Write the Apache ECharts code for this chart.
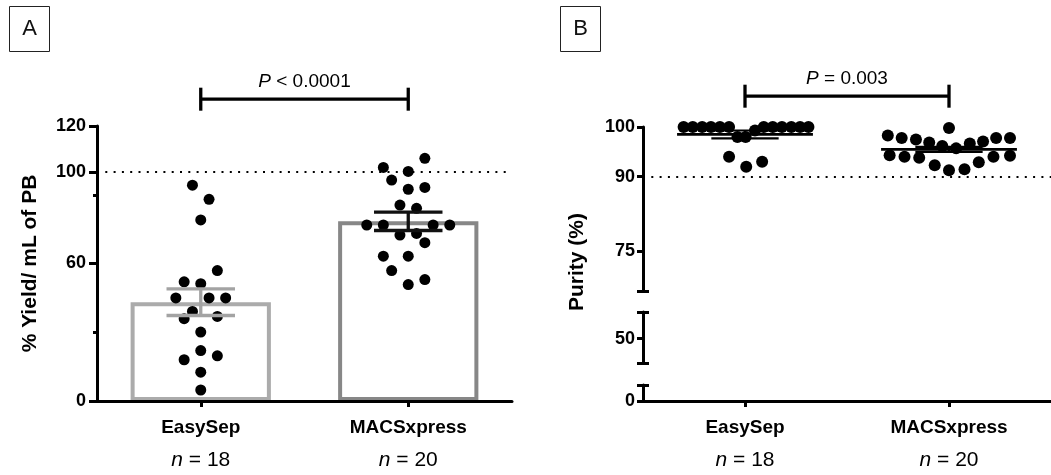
<!DOCTYPE html>
<html><head><meta charset="utf-8">
<script src="https://cdn.jsdelivr.net/npm/echarts@6/dist/echarts.min.js"></script>
<style>html,body{margin:0;padding:0;background:#fff}#c{width:1051px;height:475px}</style>
</head><body><div id="c"></div>
<script>
// ---------------- data ----------------
const categories = ['EasySep', 'MACSxpress'];
const nCounts = [18, 20];

// Panel A: % Yield / mL of PB
const yieldEasySep = [94.2, 88.0, 79.0, 56.9, 52.0, 51.2, 45.0, 45.0, 45.0, 39.1, 35.9, 36.9, 30.1, 22.0, 18.0, 19.7, 12.6, 4.8];
const jitterYieldEasySep = [-0.04, 0.04, 0, 0.08, -0.08, 0, -0.12, 0.04, 0.12, -0.04, -0.08, 0.08, 0, 0, -0.08, 0.08, 0, 0];
const yieldMACS = [105.9, 101.9, 100.2, 96.4, 92.4, 93.2, 85.5, 84.1, 76.8, 76.8, 76.8, 76.8, 72.4, 73.1, 69.1, 63.2, 63.2, 56.9, 53.0, 50.8];
const jitterYieldMACS = [0.08, -0.12, 0, -0.08, 0, 0.08, -0.04, 0.04, -0.2, -0.12, 0.12, 0.2, -0.04, 0.04, 0.08, -0.12, 0, -0.08, 0.08, 0];
const yieldMean = [43.1, 78.4];
const yieldSEM = [5.8, 4.0];
const yieldRange = [0, 120];
const yieldTicks = [0, 60, 100, 120];
const yieldMinorTicks = [30, 90];
const yieldRefLine = 100;
const yieldP = 'P < 0.0001';
const yieldBracketLevel = 131.7;

// Panel B: Purity (%)
const purityEasySep = [100, 100, 100, 100, 100, 100, 100, 100, 100, 100, 100, 100, 98.0, 98.0, 99.3, 94.0, 92.0, 93.0];
const jitterPurityEasySep = [-0.301, -0.256, -0.210, -0.167, -0.123, -0.078, 0.092, 0.136, 0.181, 0.227, 0.270, 0.311, -0.037, 0.003, 0.049, -0.078, 0.006, 0.084];
const purityMACS = [98.3, 97.8, 97.5, 96.9, 96.2, 95.7, 96.7, 97.1, 97.8, 97.8, 99.8, 94.3, 94.0, 93.8, 92.3, 91.3, 91.5, 92.9, 94.0, 94.2];
const jitterPurityMACS = [-0.300, -0.232, -0.162, -0.097, -0.033, 0.035, 0.102, 0.167, 0.231, 0.299, 0, -0.291, -0.218, -0.146, -0.070, 0, 0.076, 0.146, 0.218, 0.299];
const purityMean = [98.5, 95.5];
const puritySEM = [0.8, 0.5];
const puritySegments = [[67, 100], [45, 55.5], [0, 3.2]];
const purityTicks = [[75, 90, 100], [50], [0]];
const purityRefLine = 90;
const purityP = 'P = 0.003';
const purityBracketLevel = 106.2;

// ---------------- styles ----------------
const FONT = '"Liberation Sans", Arial, Helvetica, sans-serif';
const BLACK = '#000';
const barBorders = ['#ababab', '#878787'];
const errColors = ['#a3a3a3', '#111'];

const chart = echarts.init(document.getElementById('c'), null, {renderer: 'canvas'});

function catLabel(value, idx) {
  return '{c|' + value + '}\n{i|n}{t| = ' + nCounts[idx] + '}';
}
const catRich = {
  c: {fontSize: 19, fontWeight: 'bold', color: BLACK, lineHeight: 32, fontFamily: FONT},
  i: {fontSize: 21, fontStyle: 'italic', color: BLACK, lineHeight: 32, fontFamily: FONT},
  t: {fontSize: 21, color: BLACK, lineHeight: 32, fontFamily: FONT}
};

function catAxis(gridIndex) {
  return {
    type: 'category', gridIndex, data: categories, z: 10,
    axisLine: {show: true, onZero: false, lineStyle: {color: BLACK, width: 3}},
    axisTick: {show: true, alignWithLabel: true, length: 6, lineStyle: {color: BLACK, width: 3}},
    axisLabel: {formatter: catLabel, rich: catRich, margin: 11, interval: 0},
    splitLine: {show: false}
  };
}
function hiddenX(gridIndex) {
  return {type: 'value', gridIndex, min: 0, max: 2, show: false};
}
function segAxes(gridIndex, range, labels, caps, tickLen, margin) {
  return [{
    type: 'value', gridIndex, min: range[0], max: range[1], position: 'left', z: 10,
    axisLine: {show: true, onZero: false, lineStyle: {color: BLACK, width: 3}},
    axisTick: {show: true, customValues: labels.concat(caps), length: tickLen, lineStyle: {color: BLACK, width: 3}},
    axisLabel: {show: true, customValues: labels, margin: margin, fontSize: 18, fontWeight: 'bold', color: BLACK, fontFamily: FONT},
    splitLine: {show: false}
  }, {
    type: 'value', gridIndex, min: range[0], max: range[1], position: 'left', z: 10,
    axisLine: {show: false, onZero: false},
    axisTick: {show: caps.length > 0, inside: true, customValues: caps.length ? caps : [range[0]], length: tickLen, lineStyle: {color: BLACK, width: 3}},
    axisLabel: {show: false},
    splitLine: {show: false}
  }];
}

function bracketSeries(xIdx, yIdx, level, text) {
  return {
    type: 'custom', xAxisIndex: xIdx, yAxisIndex: yIdx, clip: false, silent: true, z: 20,
    data: [[0.5, 1.5, level]],
    renderItem(params, api) {
      const a = api.coord([api.value(0), api.value(2)]);
      const b = api.coord([api.value(1), api.value(2)]);
      const st = {stroke: BLACK, lineWidth: 3.3};
      return {type: 'group', children: [
        {type: 'line', shape: {x1: a[0], y1: a[1], x2: b[0], y2: b[1]}, style: st},
        {type: 'line', shape: {x1: a[0], y1: a[1] - 11.5, x2: a[0], y2: a[1] + 11.5}, style: st},
        {type: 'line', shape: {x1: b[0], y1: b[1] - 11.5, x2: b[0], y2: b[1] + 11.5}, style: st},
        {type: 'text', x: (a[0] + b[0]) / 2, y: a[1] - 17, style: {
          text: '{i|P}' + text.slice(1), align: 'center', verticalAlign: 'middle',
          fontSize: 19, fontFamily: FONT, fill: BLACK,
          rich: {i: {fontStyle: 'italic', fontSize: 19, fontFamily: FONT, fill: BLACK}}
        }}
      ]};
    }
  };
}

const refLine = (v) => ({
  silent: true, symbol: ['none', 'none'], animation: false,
  label: {show: false},
  lineStyle: {color: BLACK, width: 2, type: [2, 6.3]},
  data: [{yAxis: v}]
});

const grids = [
  {left: 97, right: 539, top: 126, bottom: 74},
  {left: 643, right: -5, top: 127, bottom: 184},
  {left: 643, right: -5, top: 312, bottom: 112},
  {left: 643, right: -5, top: 385, bottom: 74}
];

const yAxes = [
  {
    type: 'value', gridIndex: 0, min: yieldRange[0], max: yieldRange[1], position: 'left', z: 10,
    name: '% Yield/ mL of PB', nameLocation: 'middle', nameRotate: 90, nameGap: 56,
    nameTextStyle: {fontSize: 21, fontWeight: 'bold', color: BLACK, fontFamily: FONT},
    axisLine: {show: true, onZero: false, lineStyle: {color: BLACK, width: 3}},
    axisTick: {show: true, customValues: yieldTicks, length: 8, lineStyle: {color: BLACK, width: 3}},
    axisLabel: {customValues: yieldTicks, margin: 11, fontSize: 18, fontWeight: 'bold', color: BLACK, fontFamily: FONT},
    splitLine: {show: false}
  },
  {
    type: 'value', gridIndex: 0, min: yieldRange[0], max: yieldRange[1], position: 'left', z: 10,
    axisLine: {show: false, onZero: false},
    axisTick: {show: true, customValues: yieldMinorTicks, length: 4, lineStyle: {color: BLACK, width: 3}},
    axisLabel: {show: false}, splitLine: {show: false}
  }
].concat(
  segAxes(1, puritySegments[0], purityTicks[0], [puritySegments[0][0]], 6, 8),
  segAxes(2, puritySegments[1], purityTicks[1], [puritySegments[1][0], puritySegments[1][1]], 6, 8),
  segAxes(3, puritySegments[2], purityTicks[2], [puritySegments[2][1]], 6, 8)
);

const option = {
  animation: false,
  textStyle: {fontFamily: FONT},
  grid: grids,
  xAxis: [catAxis(0), hiddenX(0), hiddenX(1), hiddenX(2), catAxis(3)],
  yAxis: yAxes,
  graphic: [
    {type: 'rect', shape: {x: 9.5, y: 6.5, width: 40, height: 45}, style: {fill: 'none', stroke: '#222', lineWidth: 1}},
    {type: 'text', x: 29.5, y: 29, style: {text: 'A', fontSize: 22, fontFamily: FONT, fill: '#111', align: 'center', verticalAlign: 'middle'}},
    {type: 'rect', shape: {x: 560.5, y: 6.5, width: 40, height: 45}, style: {fill: 'none', stroke: '#222', lineWidth: 1}},
    {type: 'text', x: 580.5, y: 29, style: {text: 'B', fontSize: 22, fontFamily: FONT, fill: '#111', align: 'center', verticalAlign: 'middle'}},
    {type: 'text', x: 577, y: 262, rotation: Math.PI / 2, style: {text: 'Purity (%)', fontSize: 21, fontWeight: 'bold', fontFamily: FONT, fill: BLACK, align: 'center', verticalAlign: 'middle'}}
  ],
  series: [
    {
      type: 'bar', xAxisIndex: 0, yAxisIndex: 0, barWidth: '67.6%', z: 2,
      data: yieldMean.map((v, i) => ({value: v, itemStyle: {color: '#fff', borderColor: barBorders[i], borderWidth: 4}})),
      markLine: refLine(yieldRefLine)
    },
    {
      type: 'scatter', xAxisIndex: 1, yAxisIndex: 0, symbolSize: 11, z: 3,
      itemStyle: {color: BLACK, opacity: 1},
      data: yieldEasySep.map((v, k) => [0.5 + jitterYieldEasySep[k], v])
    },
    {
      type: 'scatter', xAxisIndex: 1, yAxisIndex: 0, symbolSize: 11, z: 3,
      itemStyle: {color: BLACK, opacity: 1},
      data: yieldMACS.map((v, k) => [1.5 + jitterYieldMACS[k], v])
    },
    {
      type: 'custom', xAxisIndex: 1, yAxisIndex: 0, z: 4, silent: true,
      data: yieldMean.map((m, i) => [i + 0.5, m, yieldSEM[i], i]),
      renderItem(params, api) {
        const x = api.value(0), m = api.value(1), s = api.value(2), i = api.value(3);
        const t = api.coord([x, m + s]), b = api.coord([x, m - s]);
        const l = api.coord([x - 0.165, m])[0], r = api.coord([x + 0.165, m])[0];
        const st = {stroke: errColors[i], lineWidth: 3.3};
        return {type: 'group', children: [
          {type: 'line', shape: {x1: t[0], y1: t[1], x2: b[0], y2: b[1]}, style: st},
          {type: 'line', shape: {x1: l, y1: t[1], x2: r, y2: t[1]}, style: st},
          {type: 'line', shape: {x1: l, y1: b[1], x2: r, y2: b[1]}, style: st}
        ]};
      }
    },
    bracketSeries(1, 0, yieldBracketLevel, yieldP),
    {
      type: 'scatter', xAxisIndex: 2, yAxisIndex: 2, symbolSize: 12, z: 3,
      itemStyle: {color: BLACK, opacity: 1},
      data: purityEasySep.map((v, k) => [0.5 + jitterPurityEasySep[k], v]),
      markLine: refLine(purityRefLine)
    },
    {
      type: 'scatter', xAxisIndex: 2, yAxisIndex: 2, symbolSize: 12, z: 3,
      itemStyle: {color: BLACK, opacity: 1},
      data: purityMACS.map((v, k) => [1.5 + jitterPurityMACS[k], v])
    },
    {
      type: 'custom', xAxisIndex: 2, yAxisIndex: 2, z: 4, silent: true,
      data: purityMean.map((m, i) => [i + 0.5, m, puritySEM[i]]),
      renderItem(params, api) {
        const x = api.value(0), m = api.value(1), s = api.value(2);
        const c = api.coord([x, m]), t = api.coord([x, m + s]), b = api.coord([x, m - s]);
        const L = api.coord([x - 0.333, m])[0], R = api.coord([x + 0.333, m])[0];
        const l = api.coord([x - 0.165, m])[0], r = api.coord([x + 0.165, m])[0];
        const st = {stroke: BLACK, lineWidth: 2.7};
        const st2 = {stroke: BLACK, lineWidth: 2.2};
        return {type: 'group', children: [
          {type: 'line', shape: {x1: L, y1: c[1], x2: R, y2: c[1]}, style: st},
          {type: 'line', shape: {x1: t[0], y1: t[1], x2: b[0], y2: b[1]}, style: st2},
          {type: 'line', shape: {x1: l, y1: t[1], x2: r, y2: t[1]}, style: st2},
          {type: 'line', shape: {x1: l, y1: b[1], x2: r, y2: b[1]}, style: st2}
        ]};
      }
    },
    bracketSeries(2, 2, purityBracketLevel, purityP)
  ]
};
chart.setOption(option);
</script>
</body></html>
